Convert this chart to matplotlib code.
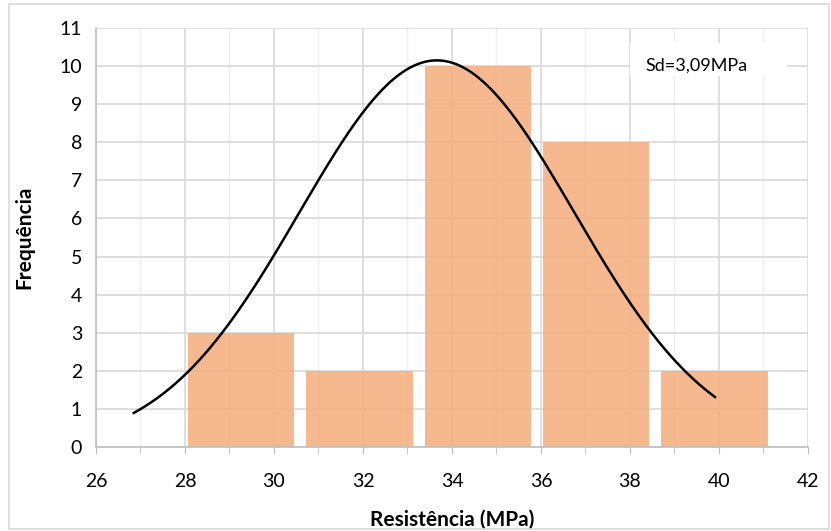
import numpy as np
import matplotlib

matplotlib.use("Agg")
import matplotlib.pyplot as plt
from matplotlib.patches import Rectangle
from matplotlib.ticker import MultipleLocator

# histogram classes (centre of each bin) and counts
bin_centres = [29.26, 31.92, 34.58, 37.24, 39.90]
counts = [3, 2, 10, 8, 2]
bin_step = 2.66

# fitted normal curve parameters
fit_mean = 33.66
fit_sd = 3.09
fit_peak = 10.15
fit_start = 26.85
fit_end = 39.91

sd_label = "Sd=3,09MPa"

plt.rcParams["font.family"] = ["Lato", "DejaVu Sans"]

fig = plt.figure(figsize=(8.31, 5.31), dpi=100)
ax = fig.add_axes([0.1155, 0.1582, 0.8568, 0.7891])

ax.bar(bin_centres, counts, width=bin_step * 0.9, color="#F4B183", alpha=0.9,
       zorder=2, linewidth=0)

xs = np.linspace(fit_start, fit_end, 300)
ys = fit_peak * np.exp(-0.5 * ((xs - fit_mean) / fit_sd) ** 2)
ax.plot(xs, ys, color="black", linewidth=1.8, zorder=3)

ax.set_xlim(26, 42)
ax.set_ylim(0, 11)
ax.xaxis.set_major_locator(MultipleLocator(2))
ax.xaxis.set_minor_locator(MultipleLocator(1))
ax.yaxis.set_major_locator(MultipleLocator(1))

ax.grid(True, which="major", color="#D9D9D9", linewidth=1.2, zorder=0)
ax.grid(True, which="minor", axis="x", color="#EFEFEF", linewidth=1.0, zorder=0)
ax.set_axisbelow(True)

for side in ("top", "right"):
    ax.spines[side].set_visible(False)
for side in ("left", "bottom"):
    ax.spines[side].set_color("#BFBFBF")
    ax.spines[side].set_linewidth(1.2)

ax.tick_params(axis="x", which="both", direction="out", color="#BFBFBF",
               labelsize=14, pad=14)
ax.tick_params(axis="x", which="major", length=5)
ax.tick_params(axis="x", which="minor", length=5)
ax.tick_params(axis="y", length=0, labelsize=14, pad=10)

ax.set_xlabel("Resistência (MPa)", fontsize=15, fontweight="bold", labelpad=14)
ax.set_ylabel("Frequência", fontsize=15, fontweight="bold", labelpad=18)

# white label box behind the Sd annotation
ax.add_patch(Rectangle((38.0, 9.74), 3.53, 0.86, facecolor="white",
                       edgecolor="none", zorder=4))
ax.text(39.5, 10.0, sd_label, fontsize=13, ha="center", va="center", zorder=5)

fig.patches.append(Rectangle((0.011, 0.004), 0.987, 0.988, transform=fig.transFigure,
                             fill=False, edgecolor="#D9D9D9", linewidth=1.2))

fig.savefig("out.png", dpi=100)
